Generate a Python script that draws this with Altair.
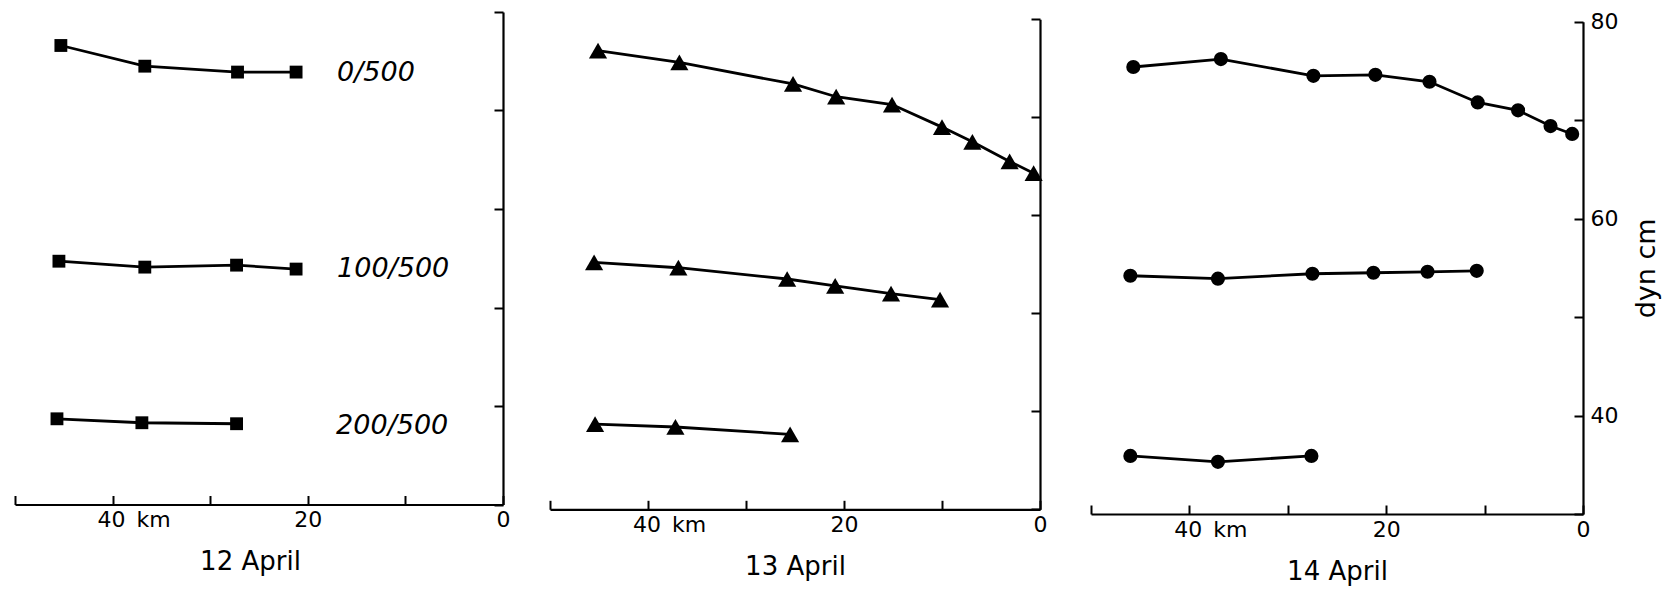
import altair as alt
import pandas as pd

FONT = "DejaVu Sans"

DAYS = ["12 April", "13 April", "14 April"]
LEVELS = ["0/500", "100/500", "200/500"]
SHAPES = ["square", "triangle-up", "circle"]
SIZES = [165, 330, 200]

# 12 April (squares)
KM_12_0 = [45.3, 36.7, 27.2, 21.2]
DYN_12_0 = [76.6, 74.5, 73.9, 73.9]
KM_12_100 = [45.5, 36.7, 27.3, 21.2]
DYN_12_100 = [54.7, 54.1, 54.3, 53.9]
KM_12_200 = [45.7, 37.0, 27.3]
DYN_12_200 = [38.7, 38.3, 38.2]

# 13 April (triangles)
KM_13_0 = [45.1, 36.8, 25.2, 20.8, 15.1, 10.0, 6.9, 3.1, 0.65]
DYN_13_0 = [76.8, 75.6, 73.4, 72.1, 71.3, 69.0, 67.5, 65.5, 64.3]
KM_13_100 = [45.5, 36.9, 25.8, 20.9, 15.2, 10.2]
DYN_13_100 = [55.2, 54.65, 53.5, 52.8, 52.0, 51.4]
KM_13_200 = [45.4, 37.2, 25.5]
DYN_13_200 = [38.7, 38.4, 37.65]

# 14 April (circles)
KM_14_0 = [45.7, 36.8, 27.4, 21.1, 15.6, 10.7, 6.6, 3.3, 1.1]
DYN_14_0 = [75.4, 76.2, 74.5, 74.6, 73.9, 71.8, 71.0, 69.4, 68.6]
KM_14_100 = [46.0, 37.1, 27.5, 21.3, 15.8, 10.8]
DYN_14_100 = [54.2, 53.9, 54.4, 54.5, 54.6, 54.7]
KM_14_200 = [46.0, 37.1, 27.6]
DYN_14_200 = [35.9, 35.3, 35.9]

# series labels (left edge in km, level in dyn cm)
LABEL_KM = [17.0, 17.0, 17.1]
LABEL_DYN = [73.8, 53.9, 38.0]

X_TICKS = [50, 40, 30, 20, 10, 0]
Y_TICKS = [30, 40, 50, 60, 70, 80]
Y_LABELS = [40, 60, 80]

SERIES = {
    "12 April": [(KM_12_0, DYN_12_0), (KM_12_100, DYN_12_100), (KM_12_200, DYN_12_200)],
    "13 April": [(KM_13_0, DYN_13_0), (KM_13_100, DYN_13_100), (KM_13_200, DYN_13_200)],
    "14 April": [(KM_14_0, DYN_14_0), (KM_14_100, DYN_14_100), (KM_14_200, DYN_14_200)],
}

rows = []
for day in DAYS:
    for lev, (kms, dyns) in zip(LEVELS, SERIES[day]):
        for k, v in zip(kms, dyns):
            rows.append({"day": day, "level": lev, "km": k, "dyn": v})
df = pd.DataFrame(rows)

lab_df = pd.DataFrame({"label": LEVELS, "km": LABEL_KM, "dyn": LABEL_DYN})

# layout: the three scanned panels sit at slightly different heights
WIDTHS = [488, 490, 492]
H = 502
Y_RANGES = [[492.5, 0], [497.3, 7.3], [502, 9.7]]
TITLE_X = [235, 245, 246]

# "40" centred on its tick, "km" trailing (a zero-width joiner keeps the
# balancing figure spaces from being trimmed)
KM_LABEL = "\u200d\u2007\u2007\u200740\u2002km"


def panel(idx):
    day = DAYS[idx]
    W = WIDTHS[idx]
    y_bottom, y_top = Y_RANGES[idx]
    d = df[df.day == day]
    xs = alt.Scale(domain=[50, 0], nice=False, zero=False)
    ys = alt.Scale(domain=[30, 80], nice=False, zero=False, range=[y_bottom, y_top])

    x_lab_axis = alt.Axis(
        orient="bottom", offset=-(H - y_bottom), values=X_TICKS, ticks=False,
        domain=True, domainColor="black", domainWidth=2.2, grid=False,
        labelExpr="datum.value == 40 ? '" + KM_LABEL + "' : ((datum.value == 20 || datum.value == 0) ? datum.label : '')",
        labelFontSize=22, labelPadding=5, labelOverlap=False, labelFlush=False,
        labelAlign="center",
        title=day, titleFontSize=26, titleFontWeight="normal",
        titleX=TITLE_X[idx], titleY=44, titleAlign="center", titleBaseline="top",
    )
    x_tick_axis = alt.Axis(
        orient="top", offset=-y_bottom, values=X_TICKS, ticks=True, tickSize=9,
        tickWidth=2, tickColor="black", labels=False, domain=False, grid=False,
        title=None,
    )
    if idx == 2:
        y_main_axis = alt.Axis(
            orient="right", values=Y_LABELS, ticks=False, domain=True,
            domainColor="black", domainWidth=2.2, grid=False, labels=True,
            labelFontSize=22, labelPadding=7, labelFlush=False, labelOverlap=False,
            title="dyn cm", titleAngle=270, titleFontSize=27,
            titleFontWeight="normal", titlePadding=43,
        )
    else:
        y_main_axis = alt.Axis(
            orient="right", values=Y_LABELS, ticks=False, domain=True,
            domainColor="black", domainWidth=2.2, grid=False, labels=False,
            title=None,
        )
    y_tick_axis = alt.Axis(
        orient="left", offset=-W, values=Y_TICKS, ticks=True, tickSize=9,
        tickWidth=2, tickColor="black", labels=False, domain=False, grid=False,
        title=None,
    )

    line = alt.Chart(d).mark_line(color="black", strokeWidth=2.8).encode(
        x=alt.X("km:Q", scale=xs, axis=x_lab_axis),
        y=alt.Y("dyn:Q", scale=ys, axis=y_main_axis),
        detail="level:N",
        order="km:Q",
    )
    pts = alt.Chart(d).mark_point(
        shape=SHAPES[idx], filled=True, color="black", size=SIZES[idx], opacity=1
    ).encode(
        x=alt.X("km:Q", scale=xs, axis=x_tick_axis),
        y=alt.Y("dyn:Q", scale=ys, axis=y_tick_axis),
    )
    layers = [line, pts]
    if idx == 0:
        txt = alt.Chart(lab_df).mark_text(
            align="left", baseline="middle", fontStyle="italic", fontSize=27,
            font=FONT, color="black",
        ).encode(
            x=alt.X("km:Q", scale=xs, axis=None),
            y=alt.Y("dyn:Q", scale=ys, axis=None),
            text="label:N",
        )
        layers.append(txt)
    return (
        alt.layer(*layers)
        .resolve_scale(x="independent", y="independent")
        .resolve_axis(x="independent", y="independent")
        .properties(width=W, height=H)
    )


left = alt.hconcat(panel(0), panel(1), spacing=39)
chart = (
    alt.hconcat(left, panel(2), spacing=43)
    .properties(padding={"left": 14, "top": 10, "right": 2, "bottom": 2}, background="white")
    .configure_view(stroke=None)
    .configure_axis(
        labelFont=FONT, titleFont=FONT, labelColor="black", titleColor="black",
        domainColor="black", tickColor="black",
    )
)

chart.save("out.html", embed_options={"renderer": "svg", "actions": False})
